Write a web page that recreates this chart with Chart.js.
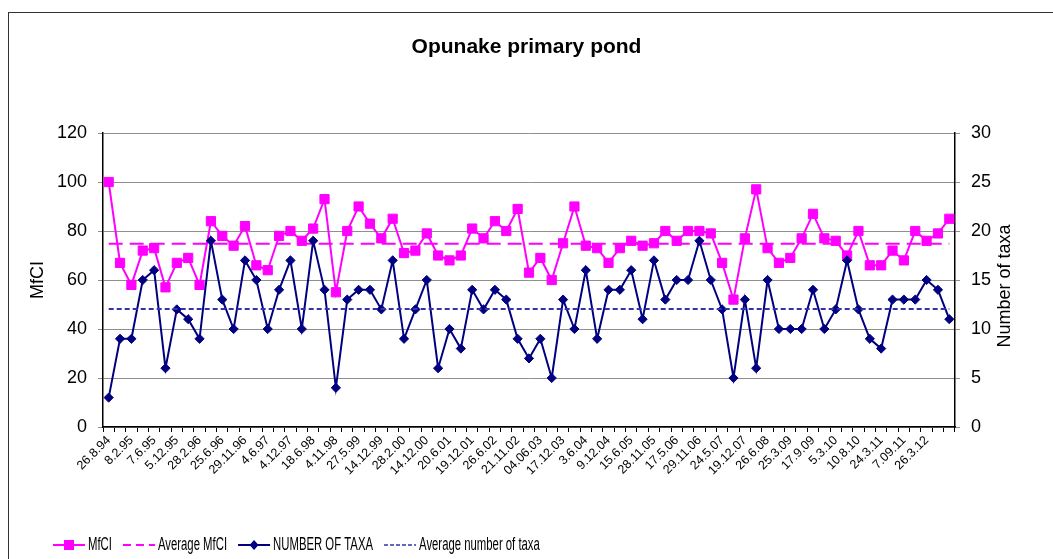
<!DOCTYPE html>
<html>
<head>
<meta charset="utf-8">
<script src="https://cdn.jsdelivr.net/npm/chart.js@4"></script>
<style>
	body { margin: 0; background: #fff; }
	#caixa { width: 1053px; height: 559px; }
</style>
</head>
<body>
<div id="caixa"><canvas id="grafico" width="1053" height="559"></canvas></div>
<script>
// datas mostradas no eixo x (uma a cada duas coletas)
const datasEixo = ["26.8.94", "8.2.95", "7.6.95", "5.12.95", "28.2.96", "25.6.96", "29.11.96", "4.6.97",
"4.12.97", "18.6.98", "4.11.98", "27.5.99", "14.12.99", "28.2.00", "14.12.00", "20.6.01", "19.12.01",
"26.6.02", "21.11.02", "04.06.03", "17.12.03", "3.6.04", "9.12.04", "15.6.05", "28.11.05", "17.5.06",
"29.11.06", "24.5.07", "19.12.07", "26.6.08", "25.3.09", "17.9.09", "5.3.10", "10.8.10", "24.3.11",
"7.09.11", "26.3.12"]

const valoresMfci = [100, 67, 58, 72, 73, 57, 67, 69, 58, 84, 78, 74, 82, 66, 64, 78, 80, 76, 81, 93,
55, 80, 90, 83, 77, 85, 71, 72, 79, 70, 68, 70, 81, 77, 84, 80, 89, 63, 69, 60,
75, 90, 74, 73, 67, 73, 76, 74, 75, 80, 76, 80, 80, 79, 67, 52, 77, 97, 73, 67,
69, 77, 87, 77, 76, 70, 80, 66, 66, 72, 68, 80, 76, 79, 85]

const numeroTaxa = [3, 9, 9, 15, 16, 6, 12, 11, 9, 19, 13, 10, 17, 15, 10, 14, 17, 10, 19, 14,
4, 13, 14, 14, 12, 17, 9, 12, 15, 6, 10, 8, 14, 12, 14, 13, 9, 7, 9, 5,
13, 10, 16, 9, 14, 14, 16, 11, 17, 13, 15, 15, 19, 15, 12, 5, 13, 6, 15, 10,
10, 10, 14, 10, 12, 17, 12, 9, 8, 13, 13, 13, 15, 14, 11]

const mediaMfci = 74.8
const mediaTaxa = 12.05

const ticksMfci = [0, 20, 40, 60, 80, 100, 120]
const ticksTaxa = [0, 5, 10, 15, 20, 25, 30]

const nomesSeries = ['MfCI', 'Average MfCI', 'NUMBER OF TAXA', 'Average number of taxa']

const ROSA = '#ff00ff'
const AZUL = '#000080'
const AZUL_MEDIA = '#3333a8'
const CINZA = '#8f8f8f'
const FONTE = "'Liberation Sans', Arial, sans-serif"

var categorias = []
for (let i = 0; i < valoresMfci.length; i++) {
	categorias.push(i % 2 == 0 && datasEixo[i / 2] ? datasEixo[i / 2] : '')
}

Chart.defaults.font.family = FONTE
Chart.defaults.color = '#000'

// legenda desenhada a mao, com linha + marcador como no Excel
const legendaLinha = {
	id: 'legendaLinha',
	afterDraw(chart) {
		const ctx = chart.ctx
		const itens = [
			{ cor: ROSA, traco: [], larg: 2, marca: 'quad' },
			{ cor: ROSA, traco: [8, 5], larg: 2 },
			{ cor: AZUL, traco: [], larg: 2, marca: 'losango' },
			{ cor: AZUL_MEDIA, traco: [4, 2], larg: 1.5 }
		]
		let x = 53
		const y = 545
		ctx.save()
		ctx.font = '18px ' + FONTE
		ctx.textBaseline = 'middle'
		for (let i = 0; i < itens.length; i++) {
			const it = itens[i]
			ctx.strokeStyle = it.cor
			ctx.lineWidth = it.larg
			ctx.setLineDash(it.traco)
			ctx.beginPath()
			ctx.moveTo(x, y)
			ctx.lineTo(x + 32, y)
			ctx.stroke()
			ctx.setLineDash([])
			ctx.fillStyle = it.cor
			if (it.marca == 'quad') {
				ctx.fillRect(x + 11, y - 5, 10, 10)
			} else if (it.marca == 'losango') {
				ctx.beginPath()
				ctx.moveTo(x + 16, y - 5)
				ctx.lineTo(x + 20.5, y)
				ctx.lineTo(x + 16, y + 5)
				ctx.lineTo(x + 11.5, y)
				ctx.closePath()
				ctx.fill()
			}
			const tx = x + 35
			const w = ctx.measureText(nomesSeries[i]).width * 0.63
			ctx.save()
			ctx.translate(tx, y)
			ctx.scale(0.63, 1)
			ctx.fillStyle = '#000'
			ctx.fillText(nomesSeries[i], 0, 0)
			ctx.restore()
			x = tx + w + 11
		}

		// titulo do eixo da direita (lido de baixo para cima)
		ctx.save()
		ctx.translate(1005, 286)
		ctx.rotate(-Math.PI / 2)
		ctx.textAlign = 'center'
		ctx.fillStyle = '#000'
		ctx.fillText('Number of taxa', 0, 0)
		ctx.restore()

		// moldura externa
		ctx.strokeStyle = '#333'
		ctx.lineWidth = 1
		ctx.strokeRect(8.5, 12.5, 2000, 2000)
		ctx.restore()
	}
}

var grafico = document.getElementById('grafico').getContext('2d')
var dados = {
	type: 'line',
	data: {
		labels: categorias,
		datasets: [{
				label: nomesSeries[0],
				data: valoresMfci,
				yAxisID: 'y',
				borderColor: ROSA,
				backgroundColor: ROSA,
				borderWidth: 2,
				pointStyle: 'rect',
				pointRadius: 6.5,
				pointBorderWidth: 1,
				order: 4
			},
			{
				label: nomesSeries[1],
				data: new Array(valoresMfci.length).fill(mediaMfci),
				yAxisID: 'y',
				borderColor: ROSA,
				borderWidth: 2,
				borderDash: [14, 7],
				pointRadius: 0,
				order: 3
			},
			{
				label: nomesSeries[2],
				data: numeroTaxa,
				yAxisID: 'y1',
				borderColor: AZUL,
				backgroundColor: AZUL,
				borderWidth: 2,
				pointStyle: 'rectRot',
				pointRadius: 4.6,
				pointBorderWidth: 1,
				order: 2
			},
			{
				label: nomesSeries[3],
				data: new Array(numeroTaxa.length).fill(mediaTaxa),
				yAxisID: 'y1',
				borderColor: AZUL_MEDIA,
				borderWidth: 2,
				borderDash: [5, 3],
				pointRadius: 0,
				order: 1
		}]
	},
	options: {
		responsive: false,
		animation: false,
		layout: { padding: 0 },
		plugins: {
			legend: { display: false },
			tooltip: { enabled: false },
			title: {
				display: true,
				text: 'Opunake primary pond',
				font: { size: 21, weight: 'bold' },
				padding: { top: 35, bottom: 72.8 }
			}
		},
		scales: {
			x: {
				offset: true,
				afterFit: (s) => { s.height = 132 },
				grid: { offset: true, drawOnChartArea: false, color: '#000', tickLength: 5 },
				border: { color: '#000', width: 1.5 },
				ticks: {
					autoSkip: false,
					minRotation: 45,
					maxRotation: 45,
					padding: 1,
					font: { size: 12.5 }
				}
			},
			y: {
				position: 'left',
				min: 0,
				max: 120,
				afterFit: (s) => { s.width = 103 },
				afterBuildTicks: (s) => { s.ticks = ticksMfci.map(v => ({ value: v })) },
				grid: { color: CINZA, tickLength: 5 },
				border: { color: '#000', width: 1.5 },
				ticks: { font: { size: 18 }, padding: 11 },
				title: { display: true, text: 'MfCI', font: { size: 18 }, padding: { top: 27 } }
			},
			y1: {
				position: 'right',
				min: 0,
				max: 30,
				afterFit: (s) => { s.width = 98 },
				afterBuildTicks: (s) => { s.ticks = ticksTaxa.map(v => ({ value: v })) },
				grid: { drawOnChartArea: false, color: CINZA, tickLength: 5 },
				border: { color: '#000', width: 1.5 },
				ticks: { font: { size: 18 }, padding: 11 }
			}
		}
	},
	plugins: [legendaLinha]
}
new Chart(grafico, dados)
</script>
</body>
</html>
